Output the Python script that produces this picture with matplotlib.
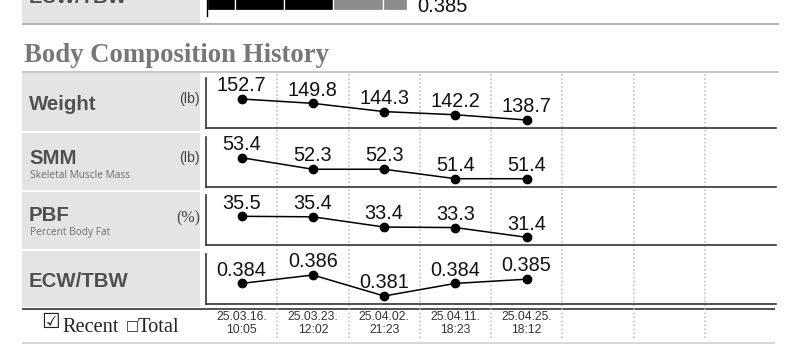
import matplotlib
matplotlib.use("Agg")
import matplotlib.pyplot as plt
from matplotlib.patches import Rectangle

# ---------------- data ----------------
dates = ["25.03.16.", "25.03.23.", "25.04.02.", "25.04.11.", "25.04.25."]
times = ["10:05", "12:02", "21:23", "18:23", "18:12"]
weight = [152.7, 149.8, 144.3, 142.2, 138.7]
smm = [53.4, 52.3, 52.3, 51.4, 51.4]
pbf = [35.5, 35.4, 33.4, 33.3, 31.4]
ecw_tbw = [0.384, 0.386, 0.381, 0.384, 0.385]
row_titles = ["Weight", "SMM", "PBF", "ECW/TBW"]
row_subtitles = ["", "Skeletal Muscle Mass", "Percent Body Fat", ""]
row_units = ["(lb)", "(lb)", "(%)", ""]
row_formats = ["{:.1f}", "{:.1f}", "{:.1f}", "{:.3f}"]
n_slots = 8
# top (cut) ECW/TBW bar: segment edges in bar-scale units and their shade
ecw_bar_edges = [0.43, 1.0, 2.0, 3.0, 4.0, 4.5]
ecw_bar_shade = ["black", "black", "black", "#8c8c8c", "#8c8c8c"]
ecw_bar_label = "0.385"

W, H = 785, 350
fig = plt.figure(figsize=(W / 100, H / 100), dpi=100)

def rect(x0, y0, x1, y1):
    return [x0 / W, 1 - y1 / H, (x1 - x0) / W, (y1 - y0) / H]

SANS = ["Liberation Sans", "DejaVu Sans"]
SERIF = ["Liberation Serif", "DejaVu Serif"]

# page axes in pixel coordinates for decorations
page = fig.add_axes([0, 0, 1, 1], zorder=0)
page.set_xlim(0, W)
page.set_ylim(H, 0)
page.axis("off")

box_col = "#e4e4e4"
lab_col = "#505050"

# top partial row
page.add_patch(Rectangle((22, -5), 178, 27.7, color=box_col, lw=0))
page.text(29, 2.7, "ECW/TBW", fontsize=14.5, fontweight="bold", color=lab_col,
          family=SANS, va="baseline")
page.plot([22, 779], [24, 24], color="#b4b4b4", lw=1.5, solid_capstyle="butt")

# title
page.text(24, 61.5, "Body Composition History", fontsize=19.3, fontweight="bold",
          color="#777777", family=SERIF, va="baseline")
page.plot([22, 779], [72, 72], color="#bdbdbd", lw=1.2, solid_capstyle="butt")

# label boxes
box_spans = [(73, 131), (133, 189.5), (192, 249), (251, 306.5)]
title_base = [110, 164.5, 221, 287]
sub_base = [None, 178.5, 235, None]
unit_center = [99, 158, 218, None]
for k, (y0, y1) in enumerate(box_spans):
    page.add_patch(Rectangle((22, y0), 178, y1 - y0, color=box_col, lw=0))
    page.text(29, title_base[k], row_titles[k], fontsize=14.7, fontweight="bold",
              color=lab_col, family=SANS, va="baseline")
    if row_subtitles[k]:
        page.text(29.5, sub_base[k], row_subtitles[k], fontsize=7.3,
                  color="#6e6e6e", family=["Open Sans", "DejaVu Sans"], va="baseline")
    if row_units[k]:
        fam = SERIF if row_units[k] == "(%)" else SANS
        fs = 11.5 if row_units[k] == "(%)" else 10.2
        page.text(200, unit_center[k], row_units[k], fontsize=fs, color="#444444",
                  family=fam, va="center", ha="right")

# bottom lines
page.plot([22, 775], [309, 309], color="#333333", lw=1.2, solid_capstyle="butt")
page.plot([22, 775], [342.5, 342.5], color="#cfcfcf", lw=1.2, solid_capstyle="butt")

# Recent / Total
page.text(41, 328, "\u2611", fontsize=15, color="#222222", family=["DejaVu Sans"],
          va="baseline")
page.text(62.5, 332, "Recent", fontsize=14.7, color="#222222", family=SERIF, va="baseline")
page.text(126, 329.5, "\u25a1", fontsize=10, color="#222222", family=["DejaVu Sans"],
          va="baseline")
page.text(138, 332, "Total", fontsize=14.7, color="#222222", family=SERIF, va="baseline")

# top bar axes
bar_px_per_unit = 49.2
axb = fig.add_axes(rect(207, -10, 785, 16), zorder=2)
axb.set_xlim(ecw_bar_edges[0], ecw_bar_edges[0] + (785 - 207) / bar_px_per_unit)
axb.set_ylim(16, -10)
for a, b, c in zip(ecw_bar_edges[:-1], ecw_bar_edges[1:], ecw_bar_shade):
    axb.barh(0, b - a, left=a, height=20, color=c, edgecolor="white", linewidth=0.9)
axb.annotate(ecw_bar_label, (ecw_bar_edges[-1], 12), xytext=(7.5, 0),
             textcoords="offset points", fontsize=14.5, family=SANS,
             va="baseline", ha="left", color="#111111", annotation_clip=False)
axb.set_facecolor("none")
for s in ["top", "right", "bottom"]:
    axb.spines[s].set_visible(False)
axb.spines["left"].set_color("black")
axb.spines["left"].set_linewidth(1.0)
axb.set_xticks([])
axb.set_yticks([])

# dotted grid axes
X0, X1 = 206, 776
axg = fig.add_axes(rect(X0, 73, X1, 338), zorder=1)
axg.set_xlim(-0.5, n_slots - 0.5)
axg.set_ylim(0, 1)
axg.axis("off")
for i in range(n_slots - 1):
    axg.axvline(i + 0.5, color="#b8b8b8", lw=1.1, linestyle=(0, (1, 1.6)))

# panels
series = [weight, smm, pbf, ecw_tbw]
tops = [78, 136.7, 195.3, 254]
ph = 50
for k, vals in enumerate(series):
    ax = fig.add_axes(rect(X0, tops[k], X1, tops[k] + ph), zorder=3)
    ax.set_facecolor("none")
    vmax, vmin = max(vals), min(vals)
    span = vmax - vmin
    ax.set_ylim(vmin - span * 8 / 21, vmax + span)
    ax.set_xlim(-0.5, n_slots - 0.5)
    xs = list(range(len(vals)))
    ax.plot(xs, vals, color="black", lw=1.1, marker="o", ms=6, mfc="black",
            mec="black", clip_on=False)
    for x, v in zip(xs, vals):
        ax.annotate(row_formats[k].format(v), (x, v), xytext=(0, 5.6),
                    textcoords="offset points", ha="center", va="baseline",
                    fontsize=14.3, family=SANS, color="#111111",
                    annotation_clip=False)
    for s in ["top", "right"]:
        ax.spines[s].set_visible(False)
    for s in ["left", "bottom"]:
        ax.spines[s].set_color("#333333")
        ax.spines[s].set_linewidth(1.2)
    ax.set_xticks([])
    ax.set_yticks([])

# dates axes
axd = fig.add_axes(rect(X0, 309, X1, 343), zorder=2)
axd.set_xlim(-0.5, n_slots - 0.5)
axd.set_ylim(343, 309)
axd.axis("off")
for i, (d, t) in enumerate(zip(dates, times)):
    axd.text(i, 316.5, d, ha="center", va="center", fontsize=8.7, color="#333333",
             family=SANS)
    axd.text(i, 330, t, ha="center", va="center", fontsize=8.7, color="#333333",
             family=SANS)

fig.savefig("out.png", dpi=100)
